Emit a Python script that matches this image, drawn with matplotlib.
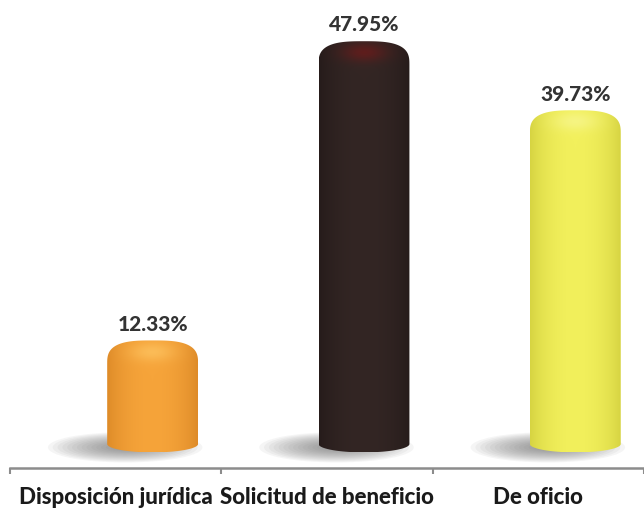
import numpy as np
import matplotlib
matplotlib.use("Agg")
import matplotlib.pyplot as plt
from matplotlib.path import Path
from matplotlib.patches import PathPatch, Ellipse
from matplotlib.colors import to_rgb

categories = ["Disposición jurídica", "Solicitud de beneficio", "De oficio"]
values = [12.33, 47.95, 39.73]
value_labels = ["12.33%", "47.95%", "39.73%"]
light = ["#F6A43A", "#332624", "#F2F05C"]
dark = ["#C87418", "#1a1212", "#BDBA2A"]
highlight = ["#FFCB6A", "#7a1818", "#F8F79A"]

plt.rcParams['font.family'] = ['Lato', 'DejaVu Sans']

fig = plt.figure(figsize=(6.44, 5.08), dpi=100)
ax = fig.add_axes([0, 40 / 508, 1, 468 / 508])
xlim0 = -0.5 - 10 / 212
ax.set_xlim(xlim0, xlim0 + 644 / 212)
ppu = 8.4
ybot = -24 / ppu
ax.set_ylim(ybot, ybot + 468 / ppu)

offset = 0.175
width = 0.43
cap = 2.8
b = 1.0

for i, v in enumerate(values):
    xc = i + offset
    x0, x1 = xc - width / 2, xc + width / 2
    # soft shadow
    for k in range(14):
        s = 1 - k / 16
        ax.add_patch(Ellipse((xc - 0.13, -0.4), width * 1.7 * s, 3.6 * s,
                             color='#606060', alpha=0.06, lw=0, zorder=1))
    # outline path
    n = 80
    th = np.linspace(np.pi, 0, n)
    p = 3.0
    cx = xc + (width / 2) * np.sign(np.cos(th)) * np.abs(np.cos(th)) ** (2 / p)
    cy = (v - cap) + cap * np.abs(np.sin(th)) ** (2 / p)
    th2 = np.linspace(0, -np.pi, n)
    bx = xc + (width / 2) * np.cos(th2)
    by = b * np.sin(th2)
    verts = [(x0, 0)] + list(zip(cx, cy)) + [(x1, 0)] + list(zip(bx, by)) + [(x0, 0)]
    codes = [Path.MOVETO] + [Path.LINETO] * (len(verts) - 2) + [Path.CLOSEPOLY]
    patch = PathPatch(Path(verts, codes), facecolor='none', edgecolor='none', zorder=2)
    ax.add_patch(patch)
    # gradient image
    nx, ny = 200, 400
    t = np.linspace(0, 1, nx)
    f = np.clip(1 - ((t - 0.5) / 0.62) ** 2, 0, 1) ** 0.7
    L = np.array(to_rgb(light[i]))
    D = np.array(to_rgb(dark[i]))
    row = D[None, :] + (L - D)[None, :] * f[:, None]
    img = np.repeat(row[None, :, :], ny, axis=0)
    ys = np.linspace(-b, v, ny)
    X, Y = np.meshgrid(np.linspace(x0, x1, nx), ys)
    g = np.exp(-((X - xc) / (0.25 * width)) ** 2 - ((Y - (v - cap * 0.5)) / (cap * 0.4)) ** 2) * 0.6
    H = np.array(to_rgb(highlight[i]))
    img = img * (1 - g[..., None]) + H[None, None, :] * g[..., None]
    im = ax.imshow(img, extent=[x0, x1, -b, v], origin='lower', aspect='auto',
                   zorder=2, interpolation='bilinear')
    im.set_clip_path(patch)
    ax.annotate(value_labels[i], (xc, v), xytext=(0, 7), textcoords='offset points',
                ha='center', va='baseline', fontsize=15, fontweight='black', color='#333333')

ax.set_xlim(xlim0, xlim0 + 644 / 212)
ax.set_ylim(ybot, ybot + 468 / ppu)

for s in ['top', 'right', 'left']:
    ax.spines[s].set_visible(False)
ax.spines['bottom'].set_bounds(-0.5, 2.5)
ax.spines['bottom'].set_color('#8c8c8c')
ax.spines['bottom'].set_linewidth(1.8)
ax.set_yticks([])
ax.set_xticks([-0.5, 0.5, 1.5, 2.5])
ax.set_xticklabels([])
ax.tick_params(axis='x', which='major', length=4.5, width=1.5, color='#8c8c8c', direction='out')
ax.set_xticks([0, 1, 2], minor=True)
ax.set_xticklabels(categories, minor=True, fontsize=16, fontweight='black', color='#1a1a1a')
ax.tick_params(axis='x', which='minor', length=0, pad=14)

fig.savefig('out.png', dpi=100)
